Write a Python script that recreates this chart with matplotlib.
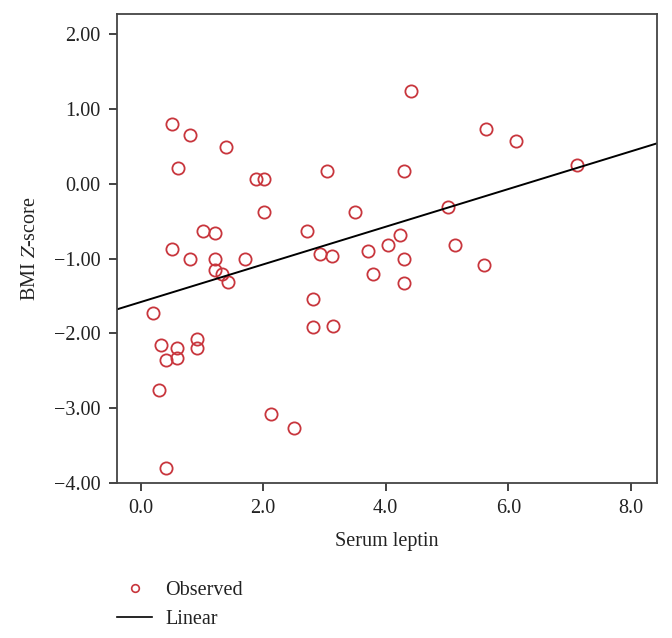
import matplotlib
matplotlib.use('Agg')
import matplotlib.pyplot as plt
from matplotlib.lines import Line2D

plt.rcParams['font.family'] = 'Liberation Serif'
plt.rcParams['mathtext.fontset'] = 'stix'

# 观测点 (Serum leptin, BMI Z-score)
leptin = [0.51, 0.81, 1.40, 0.61, 1.89, 2.02, 3.04, 2.02, 3.50, 1.02,
          1.22, 2.72, 4.41, 5.63, 6.13, 7.12, 4.30, 5.01, 4.24, 4.03,
          5.13, 0.51, 0.81, 1.21, 1.70, 1.21, 1.33, 1.42, 2.93, 3.13,
          3.71, 3.79, 0.20, 2.81, 2.81, 3.14, 0.33, 0.42, 0.60, 0.60,
          0.92, 0.92, 0.30, 2.12, 2.51, 0.42, 4.30, 5.60, 4.30]
bmi_z = [0.80, 0.65, 0.49, 0.21, 0.06, 0.06, 0.18, -0.38, -0.38, -0.63,
         -0.66, -0.63, 1.24, 0.74, 0.58, 0.25, 0.17, -0.31, -0.68, -0.81,
         -0.81, -0.87, -1.01, -1.01, -1.01, -1.15, -1.21, -1.31, -0.94, -0.96,
         -0.90, -1.21, -1.72, -1.54, -1.92, -1.90, -2.16, -2.36, -2.19, -2.33,
         -2.07, -2.19, -2.76, -3.08, -3.27, -3.80, -1.01, -1.09, -1.32]

# 线性拟合
fit_intercept = -1.58
fit_slope = 0.252

x_ticks = [0, 2, 4, 6, 8]
y_ticks = [2, 1, 0, -1, -2, -3, -4]
xlim = (-0.39, 8.43)
ylim = (-4.0, 2.27)

red = '#c8363d'
dark = '#222222'

fig = plt.figure(figsize=(6.72, 6.38), dpi=100)
ax = fig.add_axes([0.1737, 0.243, 0.8043, 0.7346])

ax.plot(leptin, bmi_z, 'o', linestyle='none', markersize=8.8,
        markerfacecolor='none', markeredgecolor=red, markeredgewidth=1.3)
lx = list(xlim)
ly = [fit_intercept + fit_slope * v for v in lx]
ax.plot(lx, ly, color='black', linewidth=1.4)

ax.set_xlim(*xlim)
ax.set_ylim(*ylim)
ax.set_xticks(x_ticks)
ax.set_xticklabels(['%.1f' % v for v in x_ticks])
ax.set_yticks(y_ticks)
ax.set_yticklabels(['%.2f' % v if v >= 0 else '\u2212%.2f' % -v for v in y_ticks])
ax.tick_params(direction='out', length=5.5, width=1.2, colors=dark, labelsize=14.5, pad=6)
for s in ax.spines.values():
    s.set_color('#444444')
    s.set_linewidth(1.3)

ax.set_xlabel('Serum leptin', fontsize=14.5, color=dark, labelpad=10)
ax.set_ylabel('BMI $\\mathit{Z}$-score', fontsize=14.5, color=dark, labelpad=10)

handles = [Line2D([], [], marker='o', linestyle='none', markersize=5.5,
                  markerfacecolor='none', markeredgecolor=red, markeredgewidth=1.2),
           Line2D([], [], color='black', linewidth=1.2)]
fig.legend(handles, ['Observed', 'Linear'], loc='upper left',
           bbox_to_anchor=(0.174, 0.09), frameon=False, fontsize=14.5,
           handlelength=1.75, handletextpad=0.65, labelspacing=0.5,
           borderaxespad=0, borderpad=0, labelcolor=dark)

fig.savefig('out.png', dpi=100)
